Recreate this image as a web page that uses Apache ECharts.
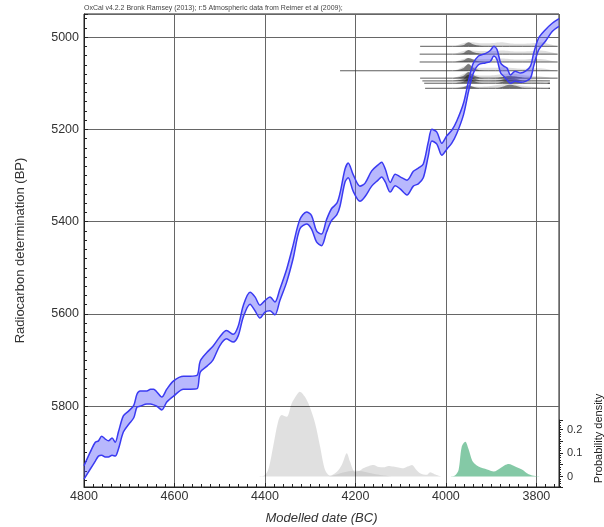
<!DOCTYPE html>
<html>
<head>
<meta charset="utf-8">
<script src="https://cdn.jsdelivr.net/npm/echarts@6/dist/echarts.min.js"></script>
<style>
  html, body { margin: 0; padding: 0; background: #fff; }
  #chart { width: 604px; height: 527px; }
</style>
</head>
<body>
<div id="chart"></div>
<script>
// calibration curve band (modelled date BC, radiocarbon BP)
const bandYears = [4800, 4786, 4775, 4768, 4761, 4753, 4746, 4738, 4731, 4724, 4713, 4701, 4690, 4683, 4676, 4661, 4653, 4646, 4639, 4628,
  4617, 4602, 4580, 4565, 4550, 4543, 4528, 4515, 4500, 4485, 4470, 4459, 4448, 4433, 4422, 4411, 4400, 4389, 4378, 4367,
  4352, 4338, 4323, 4308, 4297, 4286, 4275, 4264, 4253, 4241, 4234, 4223, 4216, 4205, 4190, 4179, 4164, 4150, 4142, 4134,
  4123, 4112, 4101, 4086, 4072, 4061, 4050, 4039, 4031, 4020, 4009, 3998, 3987, 3976, 3961, 3950, 3940, 3928, 3913, 3902,
  3894, 3887, 3879, 3872, 3865, 3857, 3847, 3835, 3824, 3813, 3806, 3795, 3780, 3765, 3750]
const bandTop = [5929, 5899, 5878, 5875, 5865, 5871, 5875, 5869, 5878, 5856, 5821, 5810, 5798, 5774, 5767, 5767, 5763, 5763, 5769, 5780,
  5763, 5745, 5735, 5735, 5733, 5702, 5683, 5670, 5650, 5636, 5644, 5626, 5582, 5553, 5563, 5581, 5571, 5563, 5574, 5546,
  5503, 5452, 5396, 5379, 5387, 5420, 5427, 5396, 5372, 5360, 5338, 5286, 5273, 5298, 5323, 5317, 5290, 5277, 5271, 5286,
  5315, 5297, 5303, 5310, 5291, 5284, 5275, 5228, 5200, 5206, 5230, 5214, 5202, 5182, 5143, 5095, 5058, 5041, 5036, 5029,
  5020, 5027, 5056, 5063, 5067, 5082, 5074, 5078, 5074, 5063, 5035, 5002, 4984, 4970, 4960]
const bandBottom = [5958, 5936, 5919, 5908, 5906, 5910, 5910, 5906, 5908, 5893, 5856, 5839, 5825, 5802, 5800, 5795, 5795, 5797, 5800, 5808,
  5791, 5778, 5763, 5763, 5762, 5726, 5713, 5700, 5669, 5654, 5661, 5647, 5607, 5579, 5593, 5609, 5596, 5593, 5602, 5571,
  5531, 5481, 5416, 5405, 5416, 5444, 5452, 5423, 5398, 5385, 5366, 5314, 5305, 5334, 5356, 5346, 5323, 5310, 5303, 5314,
  5336, 5322, 5329, 5342, 5323, 5318, 5305, 5258, 5225, 5232, 5256, 5243, 5230, 5209, 5168, 5118, 5080, 5060, 5056, 5053,
  5041, 5049, 5078, 5085, 5093, 5100, 5096, 5098, 5096, 5089, 5063, 5028, 5009, 4988, 4977]

// radiocarbon dates plotted at their BP value
const dateBP = [5020, 5037, 5054, 5073, 5089, 5095, 5100, 5111]
const dateFrom = [4057, 4058, 4058, 4234, 4057, 4052, 4048, 4046]
const dateTo = [3753, 3753, 3753, 3753, 3753, 3769, 3775, 3773]
const humpYears = [3985, 3962, 3950, 3940, 3925, 3905, 3890, 3875, 3860, 3845, 3830, 3810, 3790, 3770]
const humpLight = [
  [0, 3, 4, 4, 3, 3, 3.5, 4, 3, 2.5, 2.5, 3, 4, 2],
  [0, 3, 4, 3.5, 3, 3, 3, 3.5, 3, 2.5, 2.5, 3, 3.5, 2],
  [0, 3, 4, 3, 3, 3, 3, 3.5, 3, 2.5, 2.5, 3, 3, 1.5],
  [0, 4, 6, 4, 3, 3, 3, 3.5, 3, 2.5, 2, 2.5, 2.5, 1],
  [0, 4, 6, 4, 2.5, 2.5, 3, 4, 4.5, 4, 3, 2, 1.5, 0.5],
  [0, 4, 6, 4, 2.5, 2, 3, 4, 5, 4, 3, 2, 1, 0.5],
  [0, 3, 5, 3, 2, 2, 3, 4, 5, 4, 2.5, 1.5, 1, 0],
  [0, 2, 3, 2, 1.5, 2, 3, 4, 5, 4, 2.5, 1.5, 0.5, 0]
]
const humpDark = [
  [0, 1, 4, 2, 0.5, 0, 0, 0, 0, 0, 0, 0, 0, 0],
  [0, 1, 4, 2, 0.5, 0, 0, 0, 0, 0, 0, 0, 0, 0],
  [0, 1.5, 4, 2.5, 0.5, 0, 0, 0, 0, 0, 0, 0, 0, 0],
  [0, 2.5, 7, 3, 0.5, 0, 0, 0, 0, 0, 0, 0, 0, 0],
  [0, 2, 6, 3, 0.5, 0, 0, 1, 2, 1.5, 0.5, 0, 0, 0],
  [0, 2, 6, 3, 0.5, 0, 0, 1.5, 2.5, 2, 0.5, 0, 0, 0],
  [0, 1.5, 5, 2.5, 0.5, 0, 0, 1.5, 3, 2, 0.5, 0, 0, 0],
  [0, 1, 3, 1.5, 0, 0, 0, 1.5, 3.5, 2.5, 0.5, 0, 0, 0]
]
const humpScale = 2.2

// probability densities along the bottom
const greyYears = [4420, 4404, 4393, 4382, 4371, 4363, 4352, 4341, 4330, 4323, 4312, 4301, 4289, 4278, 4267, 4256, 4241, 4230, 4219, 4212,
  4201, 4190, 4183, 4170, 4160, 4148, 4138, 4127, 4116, 4105, 4094, 4085, 4075, 4066, 4057, 4042, 4035, 4025, 4010]
const greyDens = [0, 0.002, 0.028, 0.127, 0.233, 0.262, 0.254, 0.311, 0.347, 0.361, 0.34, 0.297, 0.226, 0.127, 0.028, 0.004, 0.02, 0.05, 0.099, 0.064,
  0.02, 0.025, 0.035, 0.045, 0.049, 0.04, 0.039, 0.045, 0.042, 0.038, 0.035, 0.042, 0.049, 0.03, 0.014, 0.007, 0.018, 0.01, 0]
const grey2Years = [4260, 4240, 4220, 4200, 4180, 4160, 4140, 4120]
const grey2Dens = [0, 0.01, 0.02, 0.025, 0.02, 0.012, 0.005, 0]
const greenYears = [3990, 3980, 3972, 3965, 3957, 3950, 3942, 3935, 3928, 3918, 3909, 3894, 3880, 3870, 3861, 3847, 3832, 3817, 3802, 3790]
const greenDens = [0, 0.004, 0.028, 0.127, 0.148, 0.117, 0.068, 0.052, 0.043, 0.035, 0.03, 0.021, 0.035, 0.048, 0.053, 0.043, 0.03, 0.01, 0.002, 0]

const font = 'Liberation Sans, Arial, sans-serif'
const blue = '#3a3af2'
const pair = (xs, ys) => xs.map((x, i) => [x, ys[i]])
// value first so that stacking runs on the y dimension
const flip = (xs, ys) => xs.map((x, i) => [ys[i], x])
const flipEnc = { x: 1, y: 0 }

const series = []

// dates: thin line + light and dark humps stacked on the line
dateBP.forEach((bp, i) => {
  const xs = [dateFrom[i], ...humpYears, dateTo[i]]
  const base = xs.map(() => bp)
  const light = [0, ...humpLight[i], 0].map(h => -h * humpScale)
  const dark = [0, ...humpDark[i], 0].map(h => -h * humpScale)
  series.push({
    type: 'line', data: flip(xs, base), encode: flipEnc, stack: 'dl' + i, stackStrategy: 'all', symbol: 'none', silent: true,
    lineStyle: { color: '#333', width: 0.8 }, z: 2
  })
  series.push({
    type: 'line', data: flip(xs, light), encode: flipEnc, stack: 'dl' + i, stackStrategy: 'all', symbol: 'none', smooth: 0.3, silent: true,
    lineStyle: { width: 0 }, areaStyle: { color: 'rgba(0,0,0,0.13)', opacity: 1 }, z: 2
  })
  series.push({
    type: 'line', data: flip(xs, base), encode: flipEnc, stack: 'dd' + i, stackStrategy: 'all', symbol: 'none', silent: true,
    lineStyle: { width: 0, opacity: 0 }, z: 2
  })
  series.push({
    type: 'line', data: flip(xs, dark), encode: flipEnc, stack: 'dd' + i, stackStrategy: 'all', symbol: 'none', smooth: 0.3, silent: true,
    lineStyle: { width: 0 }, areaStyle: { color: 'rgba(0,0,0,0.45)', opacity: 1 }, z: 2
  })
})

// densities
series.push({
  type: 'line', yAxisIndex: 1, data: pair(greyYears, greyDens), symbol: 'none', smooth: 0.3,
  lineStyle: { width: 0 }, areaStyle: { color: 'rgba(0,0,0,0.12)', opacity: 1 }, z: 1
})
series.push({
  type: 'line', yAxisIndex: 1, data: pair(grey2Years, grey2Dens), symbol: 'none', smooth: 0.3,
  lineStyle: { width: 0 }, areaStyle: { color: 'rgba(0,0,0,0.08)', opacity: 1 }, z: 1
})
series.push({
  type: 'line', yAxisIndex: 1, data: pair(greenYears, greenDens), symbol: 'none', smooth: 0.3,
  lineStyle: { width: 0 }, areaStyle: { color: 'rgba(110,192,150,0.85)', opacity: 1 }, z: 1
})

// calibration band
series.push({
  type: 'line', data: flip(bandYears, bandTop), encode: flipEnc, stack: 'band', symbol: 'none', smooth: 0.3,
  lineStyle: { color: blue, width: 1.5 }, z: 5
})
series.push({
  type: 'line', data: flip(bandYears, bandBottom.map((b, i) => b - bandTop[i])), encode: flipEnc, stack: 'band', symbol: 'none', smooth: 0.3,
  lineStyle: { color: blue, width: 1.5 }, areaStyle: { color: 'rgba(85,85,250,0.42)', opacity: 1 }, z: 5
})

const chart = echarts.init(document.getElementById('chart'), null, { renderer: 'canvas' })
const plain = v => String(v)

chart.setOption({
  animation: false,
  textStyle: { fontFamily: font },
  title: {
    text: 'OxCal v4.2.2 Bronk Ramsey (2013); r:5 Atmospheric data from Reimer et al (2009);',
    left: 84,
    top: 5,
    padding: 0,
    textStyle: { fontSize: 7, fontWeight: 'normal', color: '#444', fontFamily: font }
  },
  grid: [
    { left: 84, right: 45, top: 14, bottom: 40, show: true, borderColor: '#222', borderWidth: 1, containLabel: false, outerBoundsMode: 'none' },
    { left: 84, right: 45, top: 420, bottom: 40, containLabel: false, outerBoundsMode: 'none' }
  ],
  xAxis: [
    {
      type: 'value', gridIndex: 0, inverse: true, min: 3750, max: 4800,
      name: 'Modelled date (BC)', nameLocation: 'middle', nameGap: 25,
      nameTextStyle: { fontSize: 13, fontStyle: 'italic', color: '#333', fontFamily: font },
      axisLine: { onZero: false, lineStyle: { color: '#222', width: 1 } },
      axisTick: { inside: true, length: 4, lineStyle: { color: '#222' } },
      minorTick: { show: true, splitNumber: 10, length: 3, lineStyle: { color: '#222' } },
      axisLabel: { fontSize: 12.5, color: '#333', margin: 3, showMinLabel: false, fontFamily: font, formatter: plain },
      splitLine: { show: true, lineStyle: { color: '#666', width: 1 } }
    },
    { type: 'value', gridIndex: 1, inverse: true, min: 3750, max: 4800, show: false, axisLine: { onZero: false } }
  ],
  yAxis: [
    {
      type: 'value', gridIndex: 0, inverse: true, min: 4950, max: 5975,
      name: 'Radiocarbon determination (BP)', nameLocation: 'middle', nameGap: 57,
      nameTextStyle: { fontSize: 13, color: '#333', fontFamily: font },
      axisLine: { onZero: false, lineStyle: { color: '#222', width: 1 } },
      axisTick: { inside: true, length: 4, lineStyle: { color: '#222' } },
      minorTick: { show: true, splitNumber: 10, length: 3, lineStyle: { color: '#222' } },
      axisLabel: { fontSize: 12.5, color: '#333', margin: 5, showMinLabel: false, showMaxLabel: false, fontFamily: font, formatter: plain },
      splitLine: { show: true, lineStyle: { color: '#666', width: 1 } }
    },
    { type: 'value', gridIndex: 0, position: 'right', min: -0.0447, max: 1.968, show: false, axisLine: { onZero: false } },
    {
      type: 'value', gridIndex: 1, position: 'right', min: -0.0447, max: 0.2404,
      name: 'Probability density', nameLocation: 'middle', nameRotate: 90, nameGap: 30,
      nameTextStyle: { fontSize: 11, color: '#222', fontFamily: font, padding: [0, 0, 0, 30] },
      axisLine: { show: true, onZero: false, lineStyle: { color: '#222', width: 1 } },
      axisTick: { show: true, inside: false, length: 4, lineStyle: { color: '#222' } },
      minorTick: { show: true, splitNumber: 5, length: 2, lineStyle: { color: '#222' } },
      axisLabel: {
        fontSize: 11, color: '#333', margin: 8, fontFamily: font,
        formatter: v => {
          const r = Math.round(v * 10) / 10
          return (Math.abs(v - r) < 1e-6 && v >= 0) ? String(r) : ''
        }
      },
      splitLine: { show: false }
    }
  ],
  series
})
</script>
</body>
</html>
